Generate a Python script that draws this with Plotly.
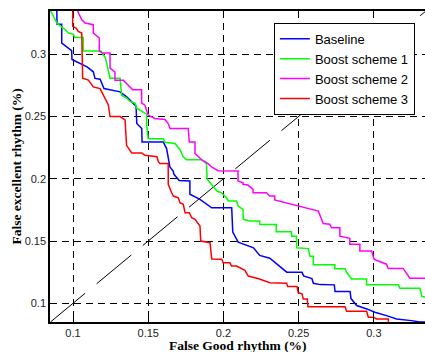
import plotly.graph_objects as go

# Baseline
base_x = [0.0892, 0.0894, 0.0925, 0.0925, 0.0991, 0.0993, 0.1093, 0.1135, 0.1146, 0.1180, 0.1206, 0.1313,
          0.1357, 0.1386, 0.1419, 0.1424, 0.1457, 0.1459, 0.1600, 0.1622, 0.1631, 0.1644, 0.1666, 0.1671,
          0.1706, 0.1777, 0.1777, 0.1844, 0.1922, 0.2055, 0.2062, 0.2098, 0.2200, 0.2241, 0.2308, 0.2354,
          0.2396, 0.2421, 0.2522, 0.2533, 0.2588, 0.2598, 0.2644, 0.2737, 0.2742, 0.2842, 0.2848, 0.2886,
          0.2953, 0.3007, 0.3084, 0.3151, 0.3250, 0.3306, 0.3350]
base_y = [0.3350, 0.3239, 0.3239, 0.3088, 0.3027, 0.2957, 0.2898, 0.2858, 0.2805, 0.2799, 0.2724, 0.2697,
          0.2657, 0.2622, 0.2582, 0.2443, 0.2403, 0.2295, 0.2295, 0.2242, 0.2182, 0.2094, 0.2062, 0.2035,
          0.1986, 0.1982, 0.1875, 0.1834, 0.1767, 0.1767, 0.1571, 0.1491, 0.1445, 0.1384, 0.1362, 0.1314,
          0.1272, 0.1250, 0.1250, 0.1220, 0.1199, 0.1161, 0.1150, 0.1148, 0.1094, 0.1094, 0.1038, 0.0982,
          0.0955, 0.0928, 0.0901, 0.0875, 0.0861, 0.0850, 0.0850]

# Boost scheme 1
b1_x = [0.0850, 0.0895, 0.0947, 0.0969, 0.1000, 0.1013, 0.1068, 0.1068, 0.1186, 0.1206, 0.1216, 0.1246,
        0.1313, 0.1323, 0.1357, 0.1379, 0.1412, 0.1424, 0.1465, 0.1489, 0.1489, 0.1500, 0.1600, 0.1611,
        0.1678, 0.1711, 0.1733, 0.1755, 0.1854, 0.1887, 0.1892, 0.1920, 0.1957, 0.1987, 0.2020, 0.2033,
        0.2088, 0.2097, 0.2130, 0.2132, 0.2175, 0.2241, 0.2241, 0.2351, 0.2351, 0.2452, 0.2454, 0.2485,
        0.2487, 0.2564, 0.2575, 0.2597, 0.2597, 0.2741, 0.2741, 0.2808, 0.2819, 0.2852, 0.2952, 0.2952,
        0.3162, 0.3173, 0.3306, 0.3320, 0.3350]
b1_y = [0.3350, 0.3245, 0.3197, 0.3169, 0.3161, 0.3133, 0.3133, 0.3024, 0.3024, 0.2992, 0.2968, 0.2807,
        0.2807, 0.2670, 0.2646, 0.2620, 0.2606, 0.2566, 0.2538, 0.2518, 0.2441, 0.2320, 0.2320, 0.2292,
        0.2282, 0.2233, 0.2174, 0.2153, 0.2153, 0.2121, 0.1995, 0.1955, 0.1901, 0.1887, 0.1847, 0.1821,
        0.1821, 0.1781, 0.1754, 0.1674, 0.1660, 0.1660, 0.1633, 0.1633, 0.1575, 0.1574, 0.1539, 0.1539,
        0.1445, 0.1439, 0.1378, 0.1378, 0.1309, 0.1309, 0.1277, 0.1277, 0.1249, 0.1196, 0.1196, 0.1148,
        0.1148, 0.1121, 0.1121, 0.1054, 0.1050]

# Boost scheme 2
b2_x = [0.1029, 0.1058, 0.1080, 0.1135, 0.1135, 0.1175, 0.1175, 0.1201, 0.1246, 0.1246, 0.1279, 0.1279,
        0.1334, 0.1352, 0.1397, 0.1456, 0.1456, 0.1478, 0.1500, 0.1545, 0.1611, 0.1633, 0.1645, 0.1766,
        0.1773, 0.1811, 0.1811, 0.1854, 0.1898, 0.1921, 0.1964, 0.2097, 0.2097, 0.2130, 0.2130, 0.2163,
        0.2197, 0.2197, 0.2286, 0.2308, 0.2341, 0.2341, 0.2488, 0.2631, 0.2652, 0.2663, 0.2707, 0.2719,
        0.2774, 0.2774, 0.2840, 0.2840, 0.2907, 0.2907, 0.2985, 0.3002, 0.3084, 0.3095, 0.3195, 0.3206,
        0.3239, 0.3350]
b2_y = [0.3350, 0.3276, 0.3249, 0.3236, 0.3169, 0.3129, 0.3022, 0.3008, 0.3008, 0.2887, 0.2855, 0.2791,
        0.2791, 0.2767, 0.2714, 0.2714, 0.2606, 0.2590, 0.2510, 0.2483, 0.2475, 0.2443, 0.2403, 0.2403,
        0.2295, 0.2295, 0.2202, 0.2153, 0.2121, 0.2094, 0.2064, 0.2062, 0.1982, 0.1968, 0.1955, 0.1949,
        0.1915, 0.1887, 0.1887, 0.1861, 0.1861, 0.1829, 0.1781, 0.1740, 0.1674, 0.1640, 0.1634, 0.1606,
        0.1606, 0.1539, 0.1521, 0.1473, 0.1473, 0.1419, 0.1419, 0.1352, 0.1314, 0.1280, 0.1280, 0.1258,
        0.1202, 0.1202]

# Boost scheme 3
b3_x = [0.0998, 0.0998, 0.1020, 0.1035, 0.1058, 0.1064, 0.1102, 0.1135, 0.1180, 0.1202, 0.1235, 0.1246,
        0.1313, 0.1346, 0.1352, 0.1356, 0.1390, 0.1457, 0.1478, 0.1558, 0.1568, 0.1578, 0.1633, 0.1633,
        0.1656, 0.1667, 0.1700, 0.1711, 0.1733, 0.1745, 0.1773, 0.1789, 0.1811, 0.1844, 0.1849, 0.1911,
        0.1922, 0.1989, 0.1998, 0.2043, 0.2054, 0.2087, 0.2143, 0.2165, 0.2234, 0.2309, 0.2420, 0.2427,
        0.2489, 0.2497, 0.2522, 0.2531, 0.2557, 0.2562, 0.2808, 0.2819, 0.2952, 0.2963, 0.2996, 0.3019,
        0.3096, 0.3097]
b3_y = [0.3350, 0.3223, 0.3209, 0.3183, 0.3169, 0.2807, 0.2791, 0.2737, 0.2723, 0.2670, 0.2592, 0.2499,
        0.2499, 0.2472, 0.2325, 0.2268, 0.2207, 0.2207, 0.2188, 0.2176, 0.2135, 0.2122, 0.2122, 0.1955,
        0.1887, 0.1861, 0.1847, 0.1807, 0.1794, 0.1727, 0.1727, 0.1687, 0.1674, 0.1621, 0.1500, 0.1486,
        0.1355, 0.1353, 0.1325, 0.1325, 0.1299, 0.1299, 0.1264, 0.1219, 0.1197, 0.1165, 0.1162, 0.1134,
        0.1134, 0.1086, 0.1076, 0.1035, 0.1034, 0.0973, 0.0973, 0.0937, 0.0937, 0.0889, 0.0889, 0.0874,
        0.0874, 0.0844]

diag_xy = [0.085, 0.335]
ticks = [0.1, 0.15, 0.2, 0.25, 0.3]
tick_text = ["0.1", "0.15", "0.2", "0.25", "0.3"]
x_title = "False Good rhythm (%)"
y_title = "False excellent rhythm (%)"

series = [
    ("Baseline", base_x, base_y, "#0000FF"),
    ("Boost scheme 1", b1_x, b1_y, "#00FF00"),
    ("Boost scheme 2", b2_x, b2_y, "#FF00FF"),
    ("Boost scheme 3", b3_x, b3_y, "#FF0000"),
]

fig = go.Figure()
fig.add_trace(go.Scatter(x=diag_xy, y=diag_xy, mode="lines", showlegend=False,
                         line=dict(color="black", width=1, dash="45px,15px"), hoverinfo="skip"))
for name, xs, ys, col in series:
    fig.add_trace(go.Scatter(x=xs, y=ys, mode="lines", name=name,
                             line=dict(color=col, width=1.5)))

axis_common = dict(
    showline=True, linecolor="black", linewidth=1.5, mirror=True,
    showgrid=True, gridcolor="black", gridwidth=1, griddash="7px,5px",
    zeroline=False, ticks="inside", ticklen=5, tickcolor="black",
    tickvals=ticks, ticktext=tick_text, automargin=False,
    tickfont=dict(family="Liberation Sans, Arial", size=11, color="#222"),
)

title_font = dict(family="Liberation Serif, Times New Roman", size=13.5, color="black", weight="bold")

fig.update_layout(
    width=425, height=352,
    margin=dict(l=50, r=0, t=11, b=30),
    paper_bgcolor="white", plot_bgcolor="white",
    xaxis=dict(range=[0.0847, 0.3340], **axis_common),
    yaxis=dict(range=[0.085, 0.3346], **axis_common),
    legend=dict(x=0.597, y=0.962, xanchor="left", yanchor="top",
                bgcolor="white", bordercolor="black", borderwidth=1,
                font=dict(family="Liberation Sans, Arial", size=13, color="black"),
                tracegroupgap=0, itemwidth=30),
    showlegend=True,
    annotations=[
        dict(text=x_title, xref="paper", yref="paper", x=0.5, y=0, xanchor="center",
             yanchor="middle", yshift=-23, showarrow=False, font=title_font),
        dict(text=y_title, xref="paper", yref="paper", x=0, y=0.5, xanchor="center",
             yanchor="middle", xshift=-34, textangle=-90, showarrow=False, font=title_font),
    ],
)

fig.write_html("out.html", config={"displayModeBar": False},
               post_script="document.body.style.margin='0';")
